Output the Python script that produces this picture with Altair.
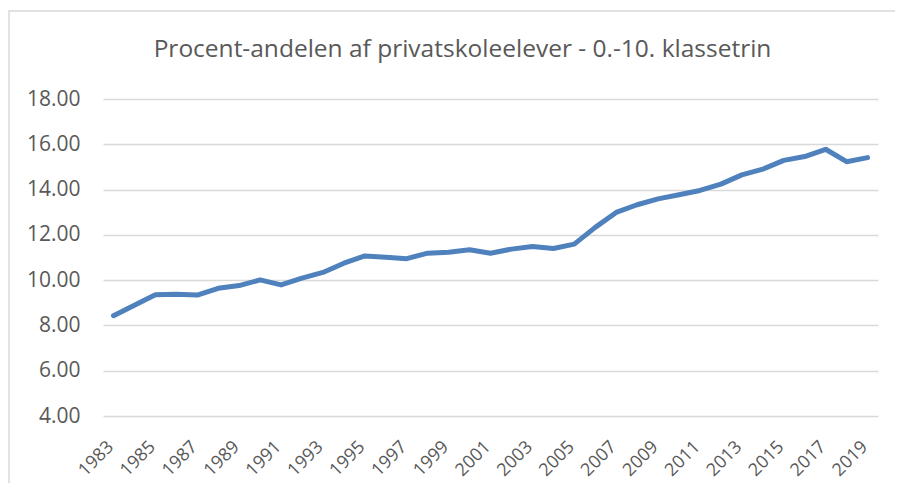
import altair as alt
import pandas as pd

years = list(range(1983, 2020))
values = [8.43, 8.89, 9.35, 9.38, 9.34, 9.64, 9.76, 10.01, 9.79, 10.09,
          10.34, 10.75, 11.07, 11.01, 10.95, 11.19, 11.23, 11.34, 11.19, 11.37,
          11.49, 11.40, 11.59, 12.33, 12.99, 13.33, 13.59, 13.77, 13.96, 14.24,
          14.65, 14.90, 15.29, 15.46, 15.78, 15.23, 15.41]
label_years = [y for y in years if (y - 1983) % 2 == 0]
y_ticks = [4, 6, 8, 10, 12, 14, 16, 18]
title_text = ["Procent-andelen af privatskoleelever - 0.-10. klassetrin"]

df = pd.DataFrame({"year": years, "pct": values})

FONT = "Open Sans"
GREY = "#595959"

line = alt.Chart(df).mark_line(
    color="#4F81BD", strokeWidth=5, strokeCap="round", strokeJoin="round"
).encode(
    x=alt.X("year:O", title=None,
            scale=alt.Scale(type="point", padding=0.5),
            axis=alt.Axis(values=label_years, labelAngle=315, labelAlign="right",
                          labelBaseline="middle", labelPadding=28, labelOffset=-3,
                          labelFontSize=18, labelFont=FONT, labelColor=GREY,
                          ticks=False, domain=False, grid=False, labelOverlap=False)),
    y=alt.Y("pct:Q", title=None,
            scale=alt.Scale(domain=[4, 18], nice=False, zero=False),
            axis=alt.Axis(values=y_ticks, format=".2f", labelFontSize=21,
                          labelFont=FONT, labelColor=GREY, labelPadding=23,
                          ticks=False, domain=False, grid=True,
                          gridColor="#d9d9d9", gridWidth=1.5)),
)

border = alt.Chart(alt.Data(values=[{}])).mark_rect(
    fill=None, stroke="#d9d9d9", strokeWidth=1.5
).encode(
    x=alt.value(-94), x2=alt.value(1200), y=alt.value(-88), y2=alt.value(1200)
)

title = alt.Chart(alt.Data(values=[{"t": t} for t in title_text])).mark_text(
    font=FONT, fontSize=24.5, color=GREY, align="center", baseline="alphabetic"
).encode(
    text="t:N", x=alt.value(359.5), y=alt.value(-42)
)

chart = alt.layer(border, line, title).properties(
    width=775, height=317,
    autosize=alt.AutoSizeParams(type="none"),
    padding={"left": 95, "top": 91, "right": 17, "bottom": 67},
).configure_view(stroke=None)

chart.save("out.html", embed_options={"renderer": "svg", "actions": False})
